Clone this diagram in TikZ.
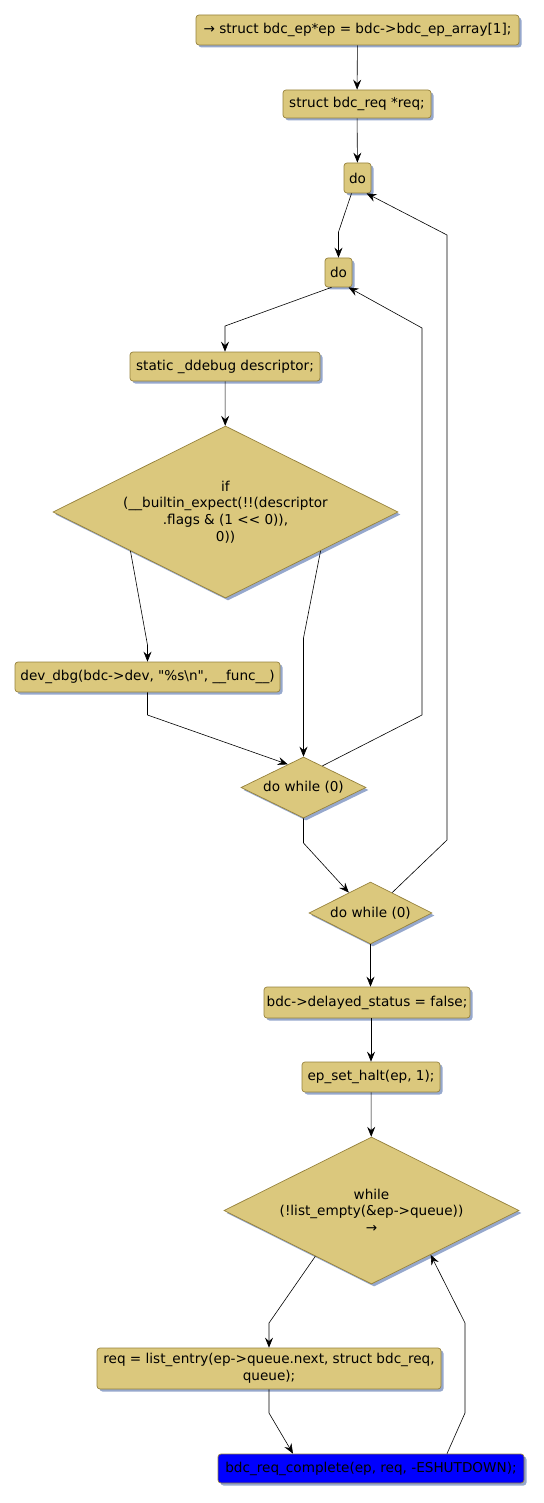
\documentclass[tikz,border=0pt]{standalone}
\usepackage{fontspec}
\newfontfamily\codefont{DejaVu Sans}
\usetikzlibrary{shapes.geometric,arrows.meta,shadows,calc}
\definecolor{boxfill}{RGB}{219,200,125}
\definecolor{boxline}{RGB}{150,130,60}
\definecolor{shadowc}{RGB}{150,168,205}
\begin{document}
\begin{tikzpicture}[x=1pt,y=-1pt,
  font=\codefont\fontsize{13.6}{16.6}\selectfont,
  base/.style={draw=boxline,fill=boxfill,line width=0.7pt,
    drop shadow={shadow xshift=2.5pt,shadow yshift=-2.5pt,fill=shadowc,opacity=1}},
  act/.style={base,rectangle,rounded corners=3pt,inner sep=0pt,align=center},
  dec/.style={base,diamond,aspect=2,inner sep=0pt,align=center},
  arr/.style={-{Stealth[length=10pt,width=8pt,inset=3.5pt]},line width=0.6pt}]
\useasboundingbox (0,0) rectangle (543,1503);
\node[act,minimum width=323,minimum height=30] (n1) at (357.5,30) {→ struct bdc\_ep*ep = bdc->bdc\_ep\_array[1];};
\node[act,minimum width=148,minimum height=28] (n2) at (357,104) {struct bdc\_req *req;};
\node[act,minimum width=27,minimum height=30] (do1) at (357.5,178) {do};
\node[act,minimum width=27,minimum height=29] (do2) at (338.5,272.5) {do};
\node[act,minimum width=190,minimum height=29] (n5) at (225,366.5) {static \_ddebug descriptor;};
\node[dec,minimum width=345,minimum height=172] (if6) at (225.5,512) {if\\(\_\_builtin\_expect(!!(descriptor\\.flags \& (1 << 0)),\\0))};
\node[act,minimum width=265,minimum height=30] (dev7) at (147.5,677) {dev\_dbg(bdc->dev, "\%s\textbackslash n", \_\_func\_\_)};
\node[dec,minimum width=125,minimum height=61] (dw8) at (303.5,787.5) {do while (0)};
\node[dec,minimum width=123,minimum height=62] (dw9) at (370.5,913) {do while (0)};
\node[act,minimum width=206,minimum height=31] (n10) at (367,1002.5) {bdc->delayed\_status = false;};
\node[act,minimum width=138,minimum height=30] (n11) at (371,1077) {ep\_set\_halt(ep, 1);};
\node[dec,minimum width=295,minimum height=147] (w12) at (371.5,1210.5) {while\\(!list\_empty(\&ep->queue))\\→};
\node[act,minimum width=344,minimum height=41] (r13) at (269,1368.5) {req = list\_entry(ep->queue.next, struct bdc\_req,\\queue);};
\node[act,fill=blue,minimum width=306,minimum height=29] (b14) at (371,1468.5) {bdc\_req\_complete(ep, req, -ESHUTDOWN);};

\draw[arr] (n1) -- (n2);
\draw[arr] (n2) -- (do1);
\draw[arr] ([xshift=-6pt]do1.south) -- (338.5,232) -- (do2.north);
\draw[arr] ([xshift=-7pt]do2.south) -- (225,326) -- (n5.north);
\draw[arr] (n5) -- (if6);
\draw[arr] ($(if6.south)!0.55!(if6.west)$) -- (147.5,645) -- (dev7.north);
\draw[arr] ($(if6.south)!0.55!(if6.east)$) -- (303.5,638) -- (dw8.north);
\draw[arr] (dev7.south) -- (147.5,715) -- ($(dw8.west)!0.75!(dw8.north)$);
\draw[arr] ($(dw8.north)!0.3!(dw8.east)$) -- (422,715) -- (422,328) -- ([xshift=10pt]do2.south);
\draw[arr] (dw8.south) -- (303.5,843) -- ($(dw9.west)!0.65!(dw9.north)$);
\draw[arr] ($(dw9.north)!0.35!(dw9.east)$) -- (447,840) -- (447,235) -- ([xshift=9pt]do1.south);
\draw[arr] (dw9.south) -- (n10.north -| dw9.south);
\draw[arr] (n10.south -| n11.north) -- (n11.north);
\draw[arr] (n11) -- (w12);
\draw[arr] ($(w12.south)!0.38!(w12.west)$) -- (269,1323) -- (r13.north);
\draw[arr] (r13.south) -- (269,1413) -- ([xshift=-78pt]b14.north);
\draw[arr] ([xshift=76pt]b14.north) -- (465,1413) -- (465,1323) -- ($(w12.south)!0.4!(w12.east)$);
\end{tikzpicture}
\end{document}
